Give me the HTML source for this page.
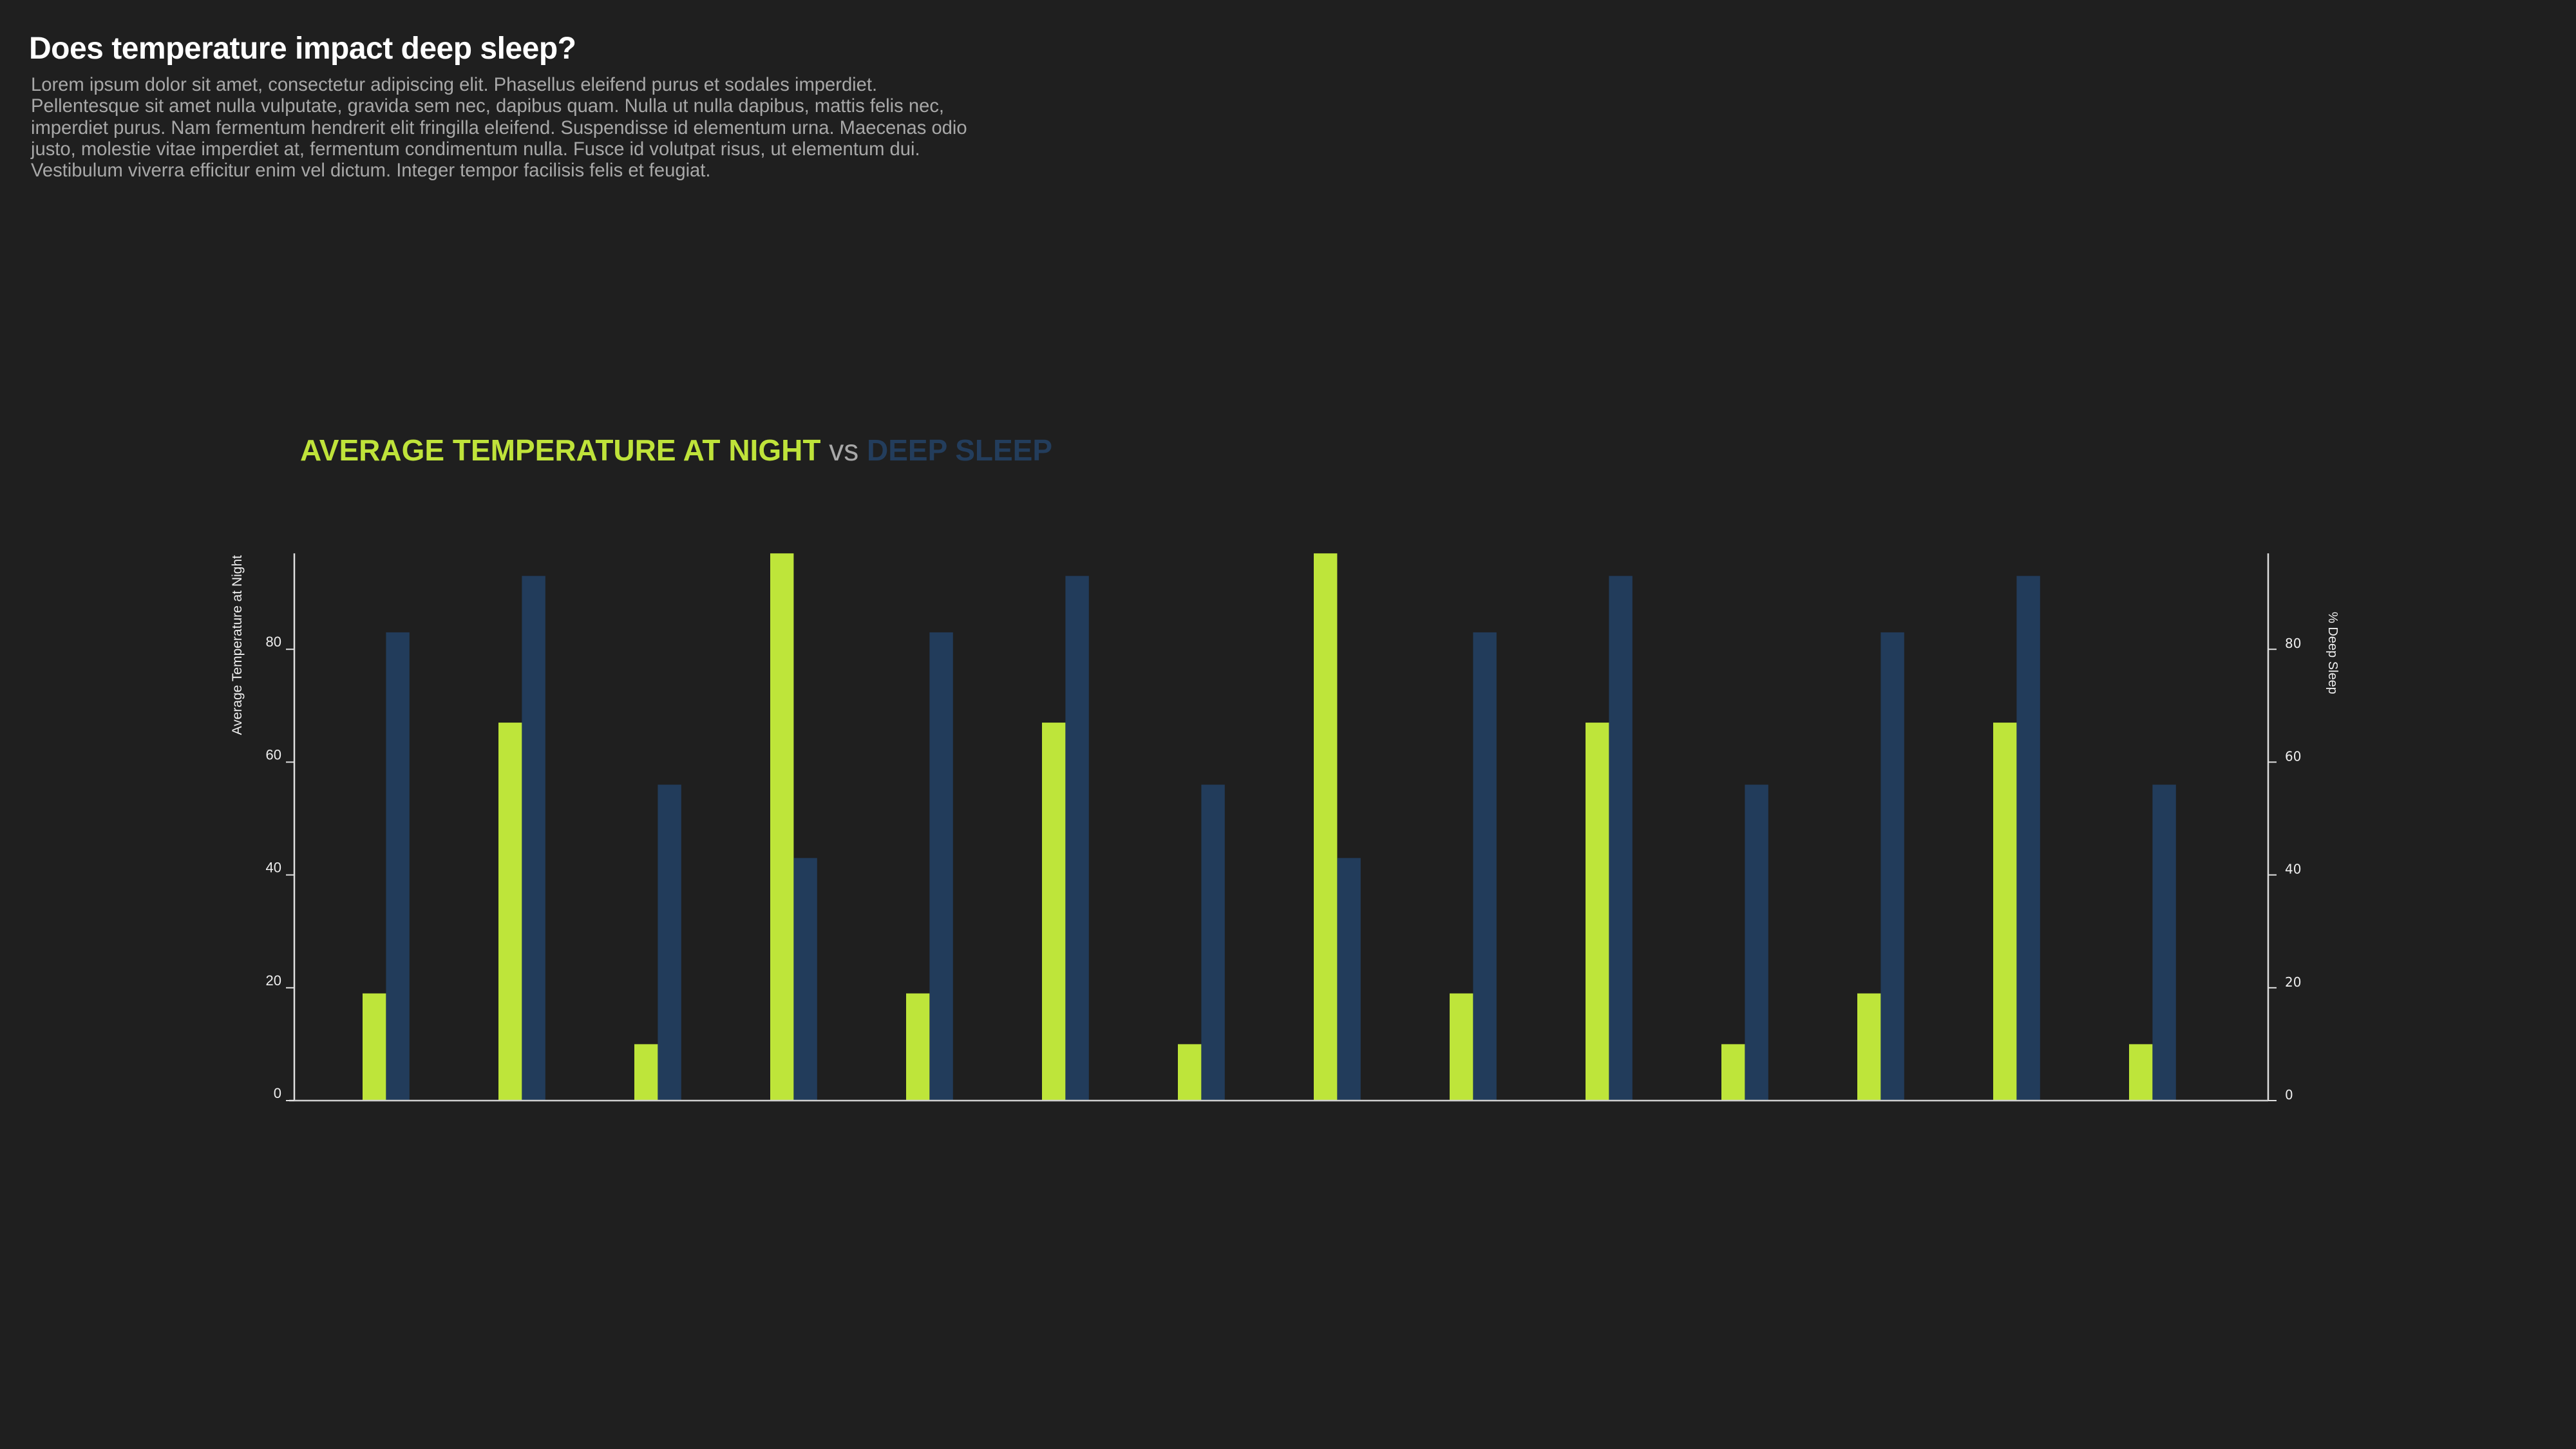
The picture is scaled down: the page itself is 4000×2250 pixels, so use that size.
<!DOCTYPE html>
<html><head><meta charset="utf-8"><style>
html,body{margin:0;padding:0;background:#1f1f1f;}
body{width:4000px;height:2250px;overflow:hidden;position:relative;font-family:"Liberation Sans",sans-serif;}
#title{position:absolute;left:45px;top:48px;font-size:48px;font-weight:bold;color:#fff;margin:0;letter-spacing:-0.5px;}
#desc{position:absolute;left:48px;top:116px;font-size:29.2px;line-height:33.3px;color:#a8a8a8;margin:0;}
</style></head><body>
<h1 id="title">Does temperature impact deep sleep?</h1>
<p id="desc">Lorem ipsum dolor sit amet, consectetur adipiscing elit. Phasellus eleifend purus et sodales imperdiet.<br>Pellentesque sit amet nulla vulputate, gravida sem nec, dapibus quam. Nulla ut nulla dapibus, mattis felis nec,<br>imperdiet purus. Nam fermentum hendrerit elit fringilla eleifend. Suspendisse id elementum urna. Maecenas odio<br>justo, molestie vitae imperdiet at, fermentum condimentum nulla. Fusce id volutpat risus, ut elementum dui.<br>Vestibulum viverra efficitur enim vel dictum. Integer tempor facilisis felis et feugiat.</p>
<svg id="chart" width="4000" height="2250" style="position:absolute;left:0;top:0" xmlns="http://www.w3.org/2000/svg">
<text x="466" y="715" font-family="Liberation Sans, sans-serif" font-size="46" font-weight="bold"><tspan fill="#bfe33a">AVERAGE TEMPERATURE AT NIGHT</tspan><tspan fill="#a8a8a8" font-weight="normal"> vs </tspan><tspan fill="#233d5c">DEEP SLEEP</tspan></text>
<g id="bars"></g>
<g id="axes"></g>
</svg>
<script>
const categories = ["n1","n2","n3","n4","n5","n6","n7","n8","n9","n10","n11","n12","n13","n14"];
const temperature = [19,67,10,97,19,67,10,97,19,67,10,19,67,10];
const deepSleep = [83,93,56,43,83,93,56,43,83,93,56,83,93,56];
const yTicks = [0,20,40,60,80];

const NS="http://www.w3.org/2000/svg";
const base=1709, pxPerUnit=8.76;
const leftX=457, rightX=3522;
const firstBar=563, lastBar=3306, barW=36.4;
function yScale(v){return base - v*pxPerUnit;}
function xScale(i){return firstBar + i*(lastBar-firstBar)/(categories.length-1);}
function mk(tag,attrs,parent){const e=document.createElementNS(NS,tag);for(const k in attrs)e.setAttribute(k,attrs[k]);parent.appendChild(e);return e;}

const bars=document.getElementById('bars');
categories.forEach((c,i)=>{
  const x=xScale(i);
  const g=mk('rect',{x:x,y:yScale(temperature[i]),width:barW,height:base-yScale(temperature[i]),fill:'#bee53a'},bars);
  
  
  const b=mk('rect',{x:x+barW,y:yScale(deepSleep[i]),width:barW,height:base-yScale(deepSleep[i]),fill:'#223c5b'},bars);
  
  
});

const axes=document.getElementById('axes');
const axisTop=yScale(Math.max(...temperature));
let l=mk('line',{x1:leftX,y1:axisTop,x2:leftX,y2:base,stroke:'#e0e0e0','stroke-width':2.5},axes);


l=mk('line',{x1:rightX,y1:axisTop,x2:rightX,y2:base,stroke:'#e0e0e0','stroke-width':2.5},axes);


l=mk('line',{x1:leftX-8,y1:base,x2:rightX,y2:base,stroke:'#cfcfcf','stroke-width':2.5},axes);


yTicks.forEach(t=>{
  const y=yScale(t);
  let tk=mk('line',{x1:leftX-13,y1:y,x2:leftX,y2:y,stroke:'#e0e0e0','stroke-width':2},axes);
  
  
  let tx=mk('text',{x:leftX-20,y:y-4,fill:'#eee','font-size':22,'text-anchor':'end','font-family':'Liberation Sans, sans-serif'},axes);
  tx.textContent=t;
  
  
  tk=mk('line',{x1:rightX,y1:y,x2:rightX+13,y2:y,stroke:'#e0e0e0','stroke-width':2},axes);
  
  
  tx=mk('text',{x:rightX+26,y:y-2,fill:'#eee','font-size':20,'font-family':'DejaVu Sans, sans-serif'},axes);
  tx.textContent=t;
  
  
});
let lt=mk('text',{x:0,y:0,fill:'#eee','font-size':21,'text-anchor':'end','font-family':'Liberation Sans, sans-serif',transform:'translate(375,862) rotate(-90)'},axes);
lt.textContent='Average Temperature at Night';


let rt=mk('text',{x:0,y:0,fill:'#eee','font-size':20,'text-anchor':'start','font-family':'Liberation Sans, sans-serif',transform:'translate(3616,950) rotate(90)'},axes);
rt.textContent='% Deep Sleep';


</script>
</body></html>
